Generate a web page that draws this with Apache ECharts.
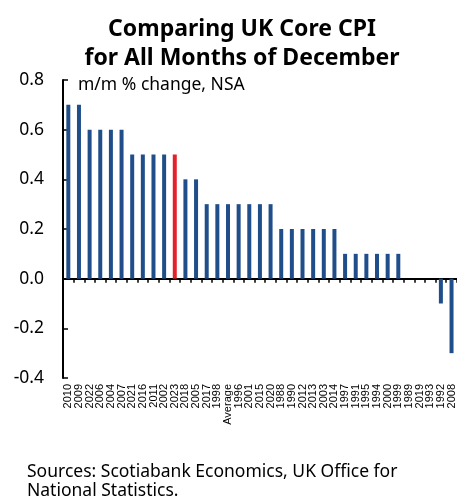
<!DOCTYPE html>
<html>
<head>
<meta charset="utf-8">
<script src="https://cdn.jsdelivr.net/npm/echarts@6/dist/echarts.min.js"></script>
<style>
  html, body { margin: 0; padding: 0; background: #fff; }
  #main { width: 457px; height: 502px; }
</style>
</head>
<body>
<div id="main"></div>
<script>
// categories (years, sorted by value)
const years = ["2010", "2009", "2022", "2006", "2004", "2007", "2021", "2016", "2011", "2002",
  "2023", "2018", "2005", "2017", "1998", "Average", "1996", "2001", "2015", "2020",
  "1988", "1990", "2012", "2013", "2003", "2014", "1997", "1991", "1995", "1994",
  "2000", "1999", "1989", "2019", "1993", "1992", "2008"];
// m/m % change, NSA
const changes = [0.7, 0.7, 0.6, 0.6, 0.6, 0.6, 0.5, 0.5, 0.5, 0.5,
  0.5, 0.4, 0.4, 0.3, 0.3, 0.3, 0.3, 0.3, 0.3, 0.3,
  0.2, 0.2, 0.2, 0.2, 0.2, 0.2, 0.1, 0.1, 0.1, 0.1,
  0.1, 0.1, 0, 0, 0, -0.1, -0.3];
const highlight = "2023";

const blue = "#1f4e8a";
const red = "#e4202a";
const font = "Noto Sans";

let myChart = echarts.init(document.getElementById("main"));

const barData = changes.map((v, i) => ({
  value: v,
  itemStyle: { color: years[i] === highlight ? red : blue },
}));

const option = {
  animation: false,
  textStyle: { fontFamily: font, color: "#000" },
  title: {
    text: "Comparing UK Core CPI\nfor All Months of December",
    left: 237,
    top: 10,
    textAlign: "center",
    textStyle: { fontFamily: font, fontSize: 23, fontWeight: "bold", lineHeight: 29, color: "#000" },
  },
  grid: { left: 63, top: 80, width: 396, height: 298 },
  xAxis: [
    {
      type: "category",
      data: years,
      axisLine: { onZero: true, lineStyle: { color: "#000", width: 2 } },
      axisTick: { show: true, interval: 0, length: 4, lineStyle: { color: "#000", width: 1.5 } },
      axisLabel: { show: false, interval: 0 },
    },
    {
      type: "category",
      data: years,
      position: "bottom",
      axisLine: { show: false, onZero: false },
      axisTick: { show: false },
      axisLabel: {
        show: true,
        rotate: 90,
        interval: 0,
        margin: 6,
        fontSize: 11,
        fontFamily: "Liberation Sans",
        color: "#000",
      },
    },
  ],
  yAxis: {
    type: "value",
    min: -0.4,
    max: 0.8,
    interval: 0.2,
    splitLine: { show: false },
    axisLine: { show: true, lineStyle: { color: "#000", width: 2 } },
    axisTick: { show: true, inside: true, length: 5, lineStyle: { color: "#000", width: 1.5 } },
    axisLabel: {
      margin: 19,
      fontSize: 17.5,
      fontFamily: font,
      color: "#000",
      formatter: (v) => v.toFixed(1),
    },
  },
  series: [
    {
      type: "bar",
      xAxisIndex: 0,
      data: barData,
      barWidth: 4,
    },
  ],
  graphic: [
    {
      type: "text",
      left: 78,
      top: 76,
      style: { text: "m/m % change, NSA", font: "17.5px 'Noto Sans'", fill: "#000" },
    },
    {
      type: "text",
      left: 27,
      top: 463,
      style: {
        text: "Sources: Scotiabank Economics, UK Office for\nNational Statistics.",
        font: "17.5px 'Noto Sans'",
        lineHeight: 19,
        fill: "#000",
      },
    },
  ],
};

option && myChart.setOption(option);
</script>
</body>
</html>
